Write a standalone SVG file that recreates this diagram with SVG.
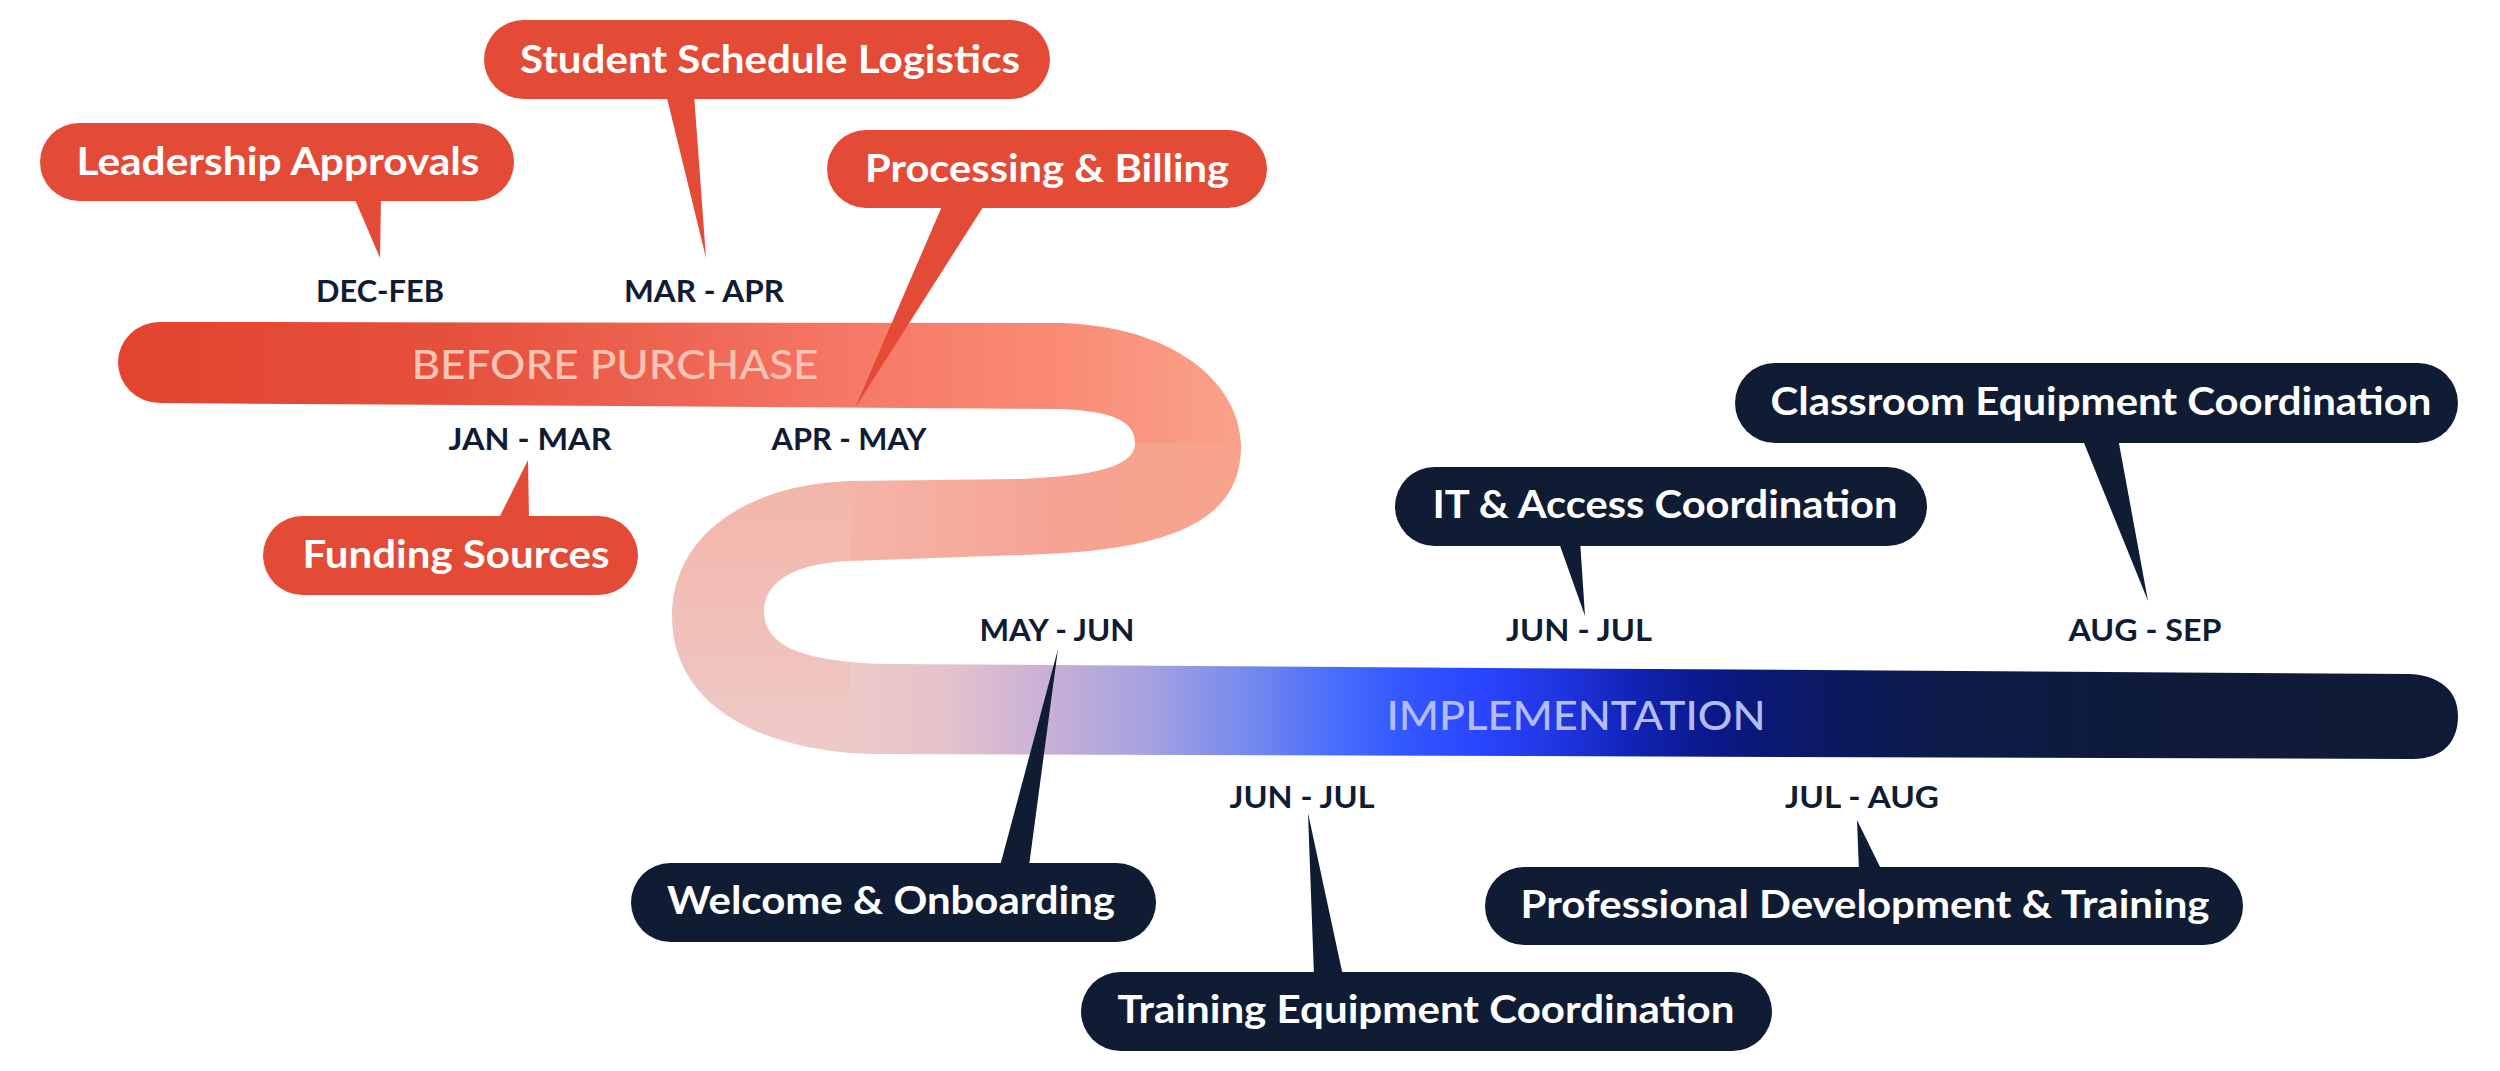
<svg xmlns="http://www.w3.org/2000/svg" xmlns:xlink="http://www.w3.org/1999/xlink" width="2500" height="1071" viewBox="0 0 2500 1071">
<defs>
<style>
.red{fill:#e34b36}
.navy{fill:#0f1c33}
.lbl{font-family:Lato,"Open Sans","Liberation Sans",sans-serif;font-weight:700;font-size:39px;fill:#ffffff;text-anchor:middle}
.date{font-family:Lato,"Open Sans","Liberation Sans",sans-serif;font-weight:700;font-size:30px;fill:#0f1c33;text-anchor:middle}
.band{font-family:Lato,"Open Sans","Liberation Sans",sans-serif;font-weight:500;font-size:40px;text-anchor:middle}
</style>
<path id="snake" d="M 160,322 L 1061,323 C 1172,326 1241,382 1241,447 C 1241,530 1150,552 1019,555 L 850,561 C 790,563 764,585 764,611 C 764,645 800,663 893,664 L 2410,674 C 2445,676 2458,695 2458,716 C 2458,740 2445,759 2412,759 L 880,754 C 770,754 672,710 672,616 C 672,540 740,485 850,481 L 1019,479 C 1100,476 1135,465 1135,443 C 1135,420 1110,411 1061,409 L 160,403 A 42 40.5 0 0 1 160,322 Z"/>
<clipPath id="cA"><rect x="0" y="0" width="1061" height="440"/></clipPath>
<clipPath id="cB1"><rect x="1061" y="0" width="1439" height="443"/></clipPath>
<clipPath id="cB2"><rect x="1061" y="443" width="1439" height="167"/></clipPath>
<clipPath id="cC"><rect x="850" y="440" width="211" height="170"/></clipPath>
<clipPath id="cD"><rect x="0" y="440" width="850" height="631"/></clipPath>
<clipPath id="cE"><rect x="850" y="610" width="1650" height="461"/></clipPath>
<linearGradient id="gA" gradientUnits="userSpaceOnUse" x1="116" y1="0" x2="1061" y2="0">
<stop offset="0" stop-color="#e2442f"/>
<stop offset="0.35" stop-color="#e5503c"/>
<stop offset="0.6" stop-color="#ee6653"/>
<stop offset="0.8" stop-color="#f77a68"/>
<stop offset="1" stop-color="#f98c76"/>
</linearGradient>
<linearGradient id="gB1" gradientUnits="userSpaceOnUse" x1="1061" y1="0" x2="1241" y2="0">
<stop offset="0" stop-color="#f98c76"/>
<stop offset="1" stop-color="#f9a28a"/>
</linearGradient>
<linearGradient id="gB2" gradientUnits="userSpaceOnUse" x1="1061" y1="0" x2="1241" y2="0">
<stop offset="0" stop-color="#f5a393"/>
<stop offset="1" stop-color="#f8a38c"/>
</linearGradient>
<linearGradient id="gC" gradientUnits="userSpaceOnUse" x1="1061" y1="0" x2="850" y2="0">
<stop offset="0" stop-color="#f5a393"/>
<stop offset="1" stop-color="#f4b4a8"/>
</linearGradient>
<linearGradient id="gD" gradientUnits="userSpaceOnUse" x1="0" y1="480" x2="0" y2="754">
<stop offset="0" stop-color="#f4b5a9"/>
<stop offset="1" stop-color="#edcac8"/>
</linearGradient>
<linearGradient id="gE" gradientUnits="userSpaceOnUse" x1="850" y1="0" x2="2456" y2="0">
<stop offset="0" stop-color="#edc9c8"/>
<stop offset="0.0623" stop-color="#e4c2cb"/>
<stop offset="0.1245" stop-color="#c7b0d5"/>
<stop offset="0.1868" stop-color="#a4a2df"/>
<stop offset="0.249" stop-color="#7589ee"/>
<stop offset="0.299" stop-color="#4b6ffa"/>
<stop offset="0.3425" stop-color="#3358ff"/>
<stop offset="0.392" stop-color="#2a45ff"/>
<stop offset="0.442" stop-color="#1f35e0"/>
<stop offset="0.492" stop-color="#1022b0"/>
<stop offset="0.542" stop-color="#0b1884"/>
<stop offset="0.604" stop-color="#0b1a62"/>
<stop offset="0.685" stop-color="#0d1b48"/>
<stop offset="0.809" stop-color="#0f1b3a"/>
<stop offset="1" stop-color="#0f1b36"/>
</linearGradient>
</defs>
<rect width="2500" height="1071" fill="#ffffff"/>

<g id="timeline-band">
<use xlink:href="#snake" href="#snake" fill="url(#gA)" clip-path="url(#cA)"/>
<use xlink:href="#snake" href="#snake" fill="url(#gB1)" clip-path="url(#cB1)"/>
<use xlink:href="#snake" href="#snake" fill="url(#gB2)" clip-path="url(#cB2)"/>
<use xlink:href="#snake" href="#snake" fill="url(#gC)" clip-path="url(#cC)"/>
<use xlink:href="#snake" href="#snake" fill="url(#gD)" clip-path="url(#cD)"/>
<use xlink:href="#snake" href="#snake" fill="url(#gE)" clip-path="url(#cE)"/>
<text class="band" x="615" y="379" fill="#f8c2b5" textLength="407" lengthAdjust="spacingAndGlyphs">BEFORE PURCHASE</text>
<text class="band" x="1576" y="730" fill="#b3bcf7" textLength="379" lengthAdjust="spacingAndGlyphs">IMPLEMENTATION</text>
</g>

<g id="connectors">
<polygon class="red" points="353,195 381,195 380,258"/>
<polygon class="red" points="666,94 694,94 706,258"/>
<polygon class="red" points="943,204 985,204 855,408"/>
<polygon class="red" points="498,520 529,520 528,460"/>
<polygon class="navy" points="2082,438 2118,438 2148,601"/>
<polygon class="navy" points="1558,540 1580,540 1585,616"/>
<polygon class="navy" points="1000,866 1029,866 1058,649"/>
<polygon class="navy" points="1314,976 1343,976 1308,813"/>
<polygon class="navy" points="1859,871 1882,871 1857,820"/>
</g>

<g id="leadership-approvals">
<rect class="red" x="40" y="123" width="474" height="78" rx="39"/>
<text class="lbl" x="278" y="175" textLength="403" lengthAdjust="spacingAndGlyphs">Leadership Approvals</text>
</g>
<g id="student-schedule-logistics">
<rect class="red" x="484" y="20" width="566" height="79" rx="39.5"/>
<text class="lbl" x="770" y="73" textLength="500" lengthAdjust="spacingAndGlyphs">Student Schedule Logistics</text>
</g>
<g id="processing-billing">
<rect class="red" x="827" y="130" width="440" height="78" rx="39"/>
<text class="lbl" x="1047" y="182" textLength="364" lengthAdjust="spacingAndGlyphs">Processing &amp; Billing</text>
</g>
<g id="funding-sources">
<rect class="red" x="263" y="516" width="375" height="79" rx="39.5"/>
<text class="lbl" x="456" y="568" textLength="307" lengthAdjust="spacingAndGlyphs">Funding Sources</text>
</g>
<g id="classroom-equipment">
<rect class="navy" x="1735" y="363" width="723" height="80" rx="40"/>
<text class="lbl" x="2101" y="415" textLength="661" lengthAdjust="spacingAndGlyphs">Classroom Equipment Coordination</text>
</g>
<g id="it-access">
<rect class="navy" x="1395" y="467" width="532" height="79" rx="39.5"/>
<text class="lbl" x="1665" y="518" textLength="465" lengthAdjust="spacingAndGlyphs">IT &amp; Access Coordination</text>
</g>
<g id="welcome-onboarding">
<rect class="navy" x="631" y="863" width="525" height="79" rx="39.5"/>
<text class="lbl" x="891" y="914" textLength="448" lengthAdjust="spacingAndGlyphs">Welcome &amp; Onboarding</text>
</g>
<g id="training-equipment">
<rect class="navy" x="1081" y="972" width="691" height="79" rx="39.5"/>
<text class="lbl" x="1426" y="1023" textLength="617" lengthAdjust="spacingAndGlyphs">Training Equipment Coordination</text>
</g>
<g id="professional-development">
<rect class="navy" x="1485" y="867" width="758" height="78" rx="39"/>
<text class="lbl" x="1865" y="918" textLength="689" lengthAdjust="spacingAndGlyphs">Professional Development &amp; Training</text>
</g>

<g id="dates">
<text class="date" x="380" y="302" textLength="128" lengthAdjust="spacingAndGlyphs">DEC-FEB</text>
<text class="date" x="704" y="302" textLength="160" lengthAdjust="spacingAndGlyphs">MAR - APR</text>
<text class="date" x="530" y="450" textLength="163" lengthAdjust="spacingAndGlyphs">JAN - MAR</text>
<text class="date" x="849" y="450" textLength="155" lengthAdjust="spacingAndGlyphs">APR - MAY</text>
<text class="date" x="1057" y="641" textLength="155" lengthAdjust="spacingAndGlyphs">MAY - JUN</text>
<text class="date" x="1579" y="641" textLength="146" lengthAdjust="spacingAndGlyphs">JUN - JUL</text>
<text class="date" x="2145" y="641" textLength="153" lengthAdjust="spacingAndGlyphs">AUG - SEP</text>
<text class="date" x="1302" y="808" textLength="145" lengthAdjust="spacingAndGlyphs">JUN - JUL</text>
<text class="date" x="1862" y="808" textLength="154" lengthAdjust="spacingAndGlyphs">JUL - AUG</text>
</g>
</svg>
